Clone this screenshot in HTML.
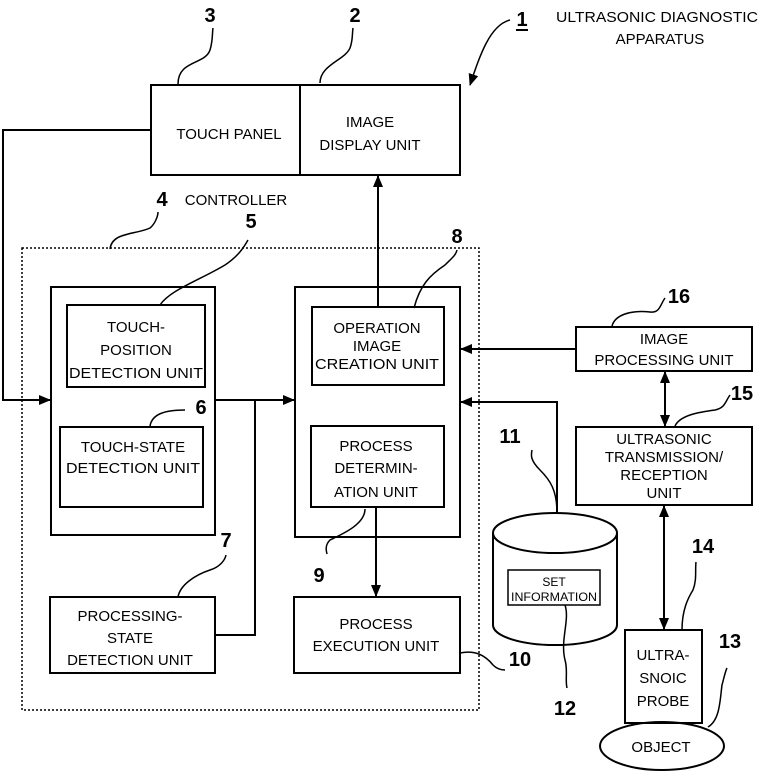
<!DOCTYPE html>
<html><head><meta charset="utf-8"><style>
html,body{margin:0;padding:0;background:#fff;}
svg{display:block;}
text{font-family:"Liberation Sans Narrow","Liberation Sans",sans-serif;font-size:15px;fill:#000;text-anchor:middle;}
.n{font-size:20px;font-weight:bold;}
.s{font-size:12px;}
</style></head><body>
<svg width="762" height="771" viewBox="0 0 762 771" xmlns="http://www.w3.org/2000/svg">
<defs>
<marker id="a" markerWidth="12" markerHeight="10" refX="11" refY="5" orient="auto" markerUnits="userSpaceOnUse">
<path d="M0,0 L12,5 L0,10 Z" fill="#000"/></marker>
<marker id="b" markerWidth="12" markerHeight="10" refX="1" refY="5" orient="auto" markerUnits="userSpaceOnUse">
<path d="M12,0 L0,5 L12,10 Z" fill="#000"/></marker>
</defs>
<g fill="none" stroke="#000" stroke-width="2">
<rect x="151" y="85" width="309" height="90"/>
<line x1="300" y1="85" x2="300" y2="175"/>
<rect x="22" y="248" width="457" height="462" stroke-dasharray="2,2" stroke-width="1.5"/>
<rect x="51" y="287" width="164" height="248"/>
<rect x="67" y="305" width="138" height="82"/>
<rect x="60" y="427" width="143" height="80"/>
<rect x="295" y="287" width="165" height="250"/>
<rect x="312" y="307" width="132" height="78"/>
<rect x="311" y="426" width="133" height="81"/>
<rect x="50" y="597" width="165" height="76"/>
<rect x="294" y="597" width="166" height="76"/>
<rect x="576" y="327" width="176" height="44"/>
<rect x="576" y="427" width="176" height="78"/>
<rect x="625" y="630" width="77" height="93"/>
<ellipse cx="662" cy="746" rx="62" ry="24"/>
<path d="M493,533 A62,20 0 0 1 617,533 L617,625 A62,20 0 0 1 493,625 Z"/>
<path d="M493,533 A62,20 0 0 0 617,533"/>
<rect x="508" y="570" width="92" height="35" stroke-width="1.5"/>
<polyline points="150,130 3,130 3,400 50,400" marker-end="url(#a)"/>
<line x1="215" y1="400" x2="294" y2="400" marker-end="url(#a)"/>
<polyline points="215,635 255,635 255,400"/>
<line x1="378" y1="307" x2="378" y2="176" marker-end="url(#a)"/>
<line x1="576" y1="349" x2="461" y2="349" marker-end="url(#a)"/>
<polyline points="557,513 557,402 461,402" marker-end="url(#a)"/>
<line x1="376" y1="507" x2="376" y2="596" marker-end="url(#a)"/>
<line x1="665" y1="372" x2="665" y2="426" marker-start="url(#b)" marker-end="url(#a)"/>
<line x1="664" y1="506" x2="664" y2="629" marker-start="url(#b)" marker-end="url(#a)"/>
<g stroke-width="1.5">
<path d="M178,84 C178,60 205,65 210,50 C213,40 212,35 213,28"/>
<path d="M320,83 C320,65 345,60 350,48 C353,40 352,35 353,28"/>
<path d="M510,20 C490,25 480,55 470,85" marker-end="url(#a)"/>
<path d="M110,249 C112,232 135,235 150,228 C155,224 158,216 158,212"/>
<path d="M160,305 C170,290 200,280 225,265 C240,255 245,245 248,240"/>
<path d="M414,308 C420,285 430,275 445,265 C452,258 456,255 457,250"/>
<path d="M150,426 C152,414 165,410 185,410"/>
<path d="M178,597 C180,585 195,575 210,570 C220,567 225,560 226,555"/>
<path d="M365,509 C365,525 340,535 330,540 C325,545 326,550 327,554"/>
<path d="M460,653 C475,650 485,655 493,665 C496,668 500,670 505,670"/>
<path d="M557,513 C557,490 550,480 540,470 C530,460 531,455 532,450"/>
<path d="M565,605 C570,620 560,640 565,660 C568,670 565,680 567,688"/>
<path d="M682,630 C682,610 688,598 693,590 C697,580 695,570 696,562"/>
<path d="M708,727 C720,720 720,700 722,685 C724,678 725,672 727,668"/>
<path d="M612,326 C615,315 630,310 650,312 C660,313 660,305 665,298"/>
<path d="M675,426 C680,415 700,412 715,410 C725,408 725,402 730,395"/>
</g>
</g>
<line x1="516" y1="30" x2="528" y2="30" stroke="#000" stroke-width="2"/>
<text class="n" x="210" y="22">3</text>
<text class="n" x="355" y="22">2</text>
<text class="n" x="522" y="26">1</text>
<text class="n" x="162" y="206">4</text>
<text class="n" x="251" y="228">5</text>
<text class="n" x="457" y="243">8</text>
<text class="n" x="201" y="414">6</text>
<text class="n" x="226" y="547">7</text>
<text class="n" x="319" y="582">9</text>
<text class="n" x="520" y="666">10</text>
<text class="n" x="510" y="443">11</text>
<text class="n" x="565" y="715">12</text>
<text class="n" x="730" y="648">13</text>
<text class="n" x="703" y="553">14</text>
<text class="n" x="742" y="400">15</text>
<text class="n" x="679" y="303">16</text>
<text x="556" y="22" style="text-anchor:start" textLength="202" lengthAdjust="spacingAndGlyphs">ULTRASONIC DIAGNOSTIC</text>
<text x="660" y="44">APPARATUS</text>
<text x="229" y="139">TOUCH PANEL</text>
<text x="370" y="127">IMAGE</text>
<text x="370" y="150">DISPLAY   UNIT</text>
<text x="236" y="205">CONTROLLER</text>
<text x="136" y="332">TOUCH-</text>
<text x="136" y="355">POSITION</text>
<text x="136" y="378" textLength="134" lengthAdjust="spacingAndGlyphs">DETECTION UNIT</text>
<text x="133" y="452">TOUCH-STATE</text>
<text x="133" y="473" textLength="134" lengthAdjust="spacingAndGlyphs">DETECTION UNIT</text>
<text x="377" y="333">OPERATION</text>
<text x="377" y="351">IMAGE</text>
<text x="377" y="369" textLength="124" lengthAdjust="spacingAndGlyphs">CREATION UNIT</text>
<text x="376" y="451">PROCESS</text>
<text x="376" y="473">DETERMIN-</text>
<text x="376" y="497">ATION UNIT</text>
<text x="130" y="621">PROCESSING-</text>
<text x="130" y="643">STATE</text>
<text x="130" y="665">DETECTION UNIT</text>
<text x="376" y="629">PROCESS</text>
<text x="376" y="651">EXECUTION UNIT</text>
<text x="664" y="344">IMAGE</text>
<text x="664" y="365">PROCESSING UNIT</text>
<text x="664" y="444">ULTRASONIC</text>
<text x="664" y="462">TRANSMISSION/</text>
<text x="664" y="480">RECEPTION</text>
<text x="664" y="498">UNIT</text>
<text class="s" x="554" y="586">SET</text>
<text class="s" x="554" y="601" textLength="86" lengthAdjust="spacingAndGlyphs">INFORMATION</text>
<text x="663" y="660">ULTRA-</text>
<text x="663" y="683">SNOIC</text>
<text x="663" y="706">PROBE</text>
<text x="661" y="752">OBJECT</text>
</svg>
</body></html>
